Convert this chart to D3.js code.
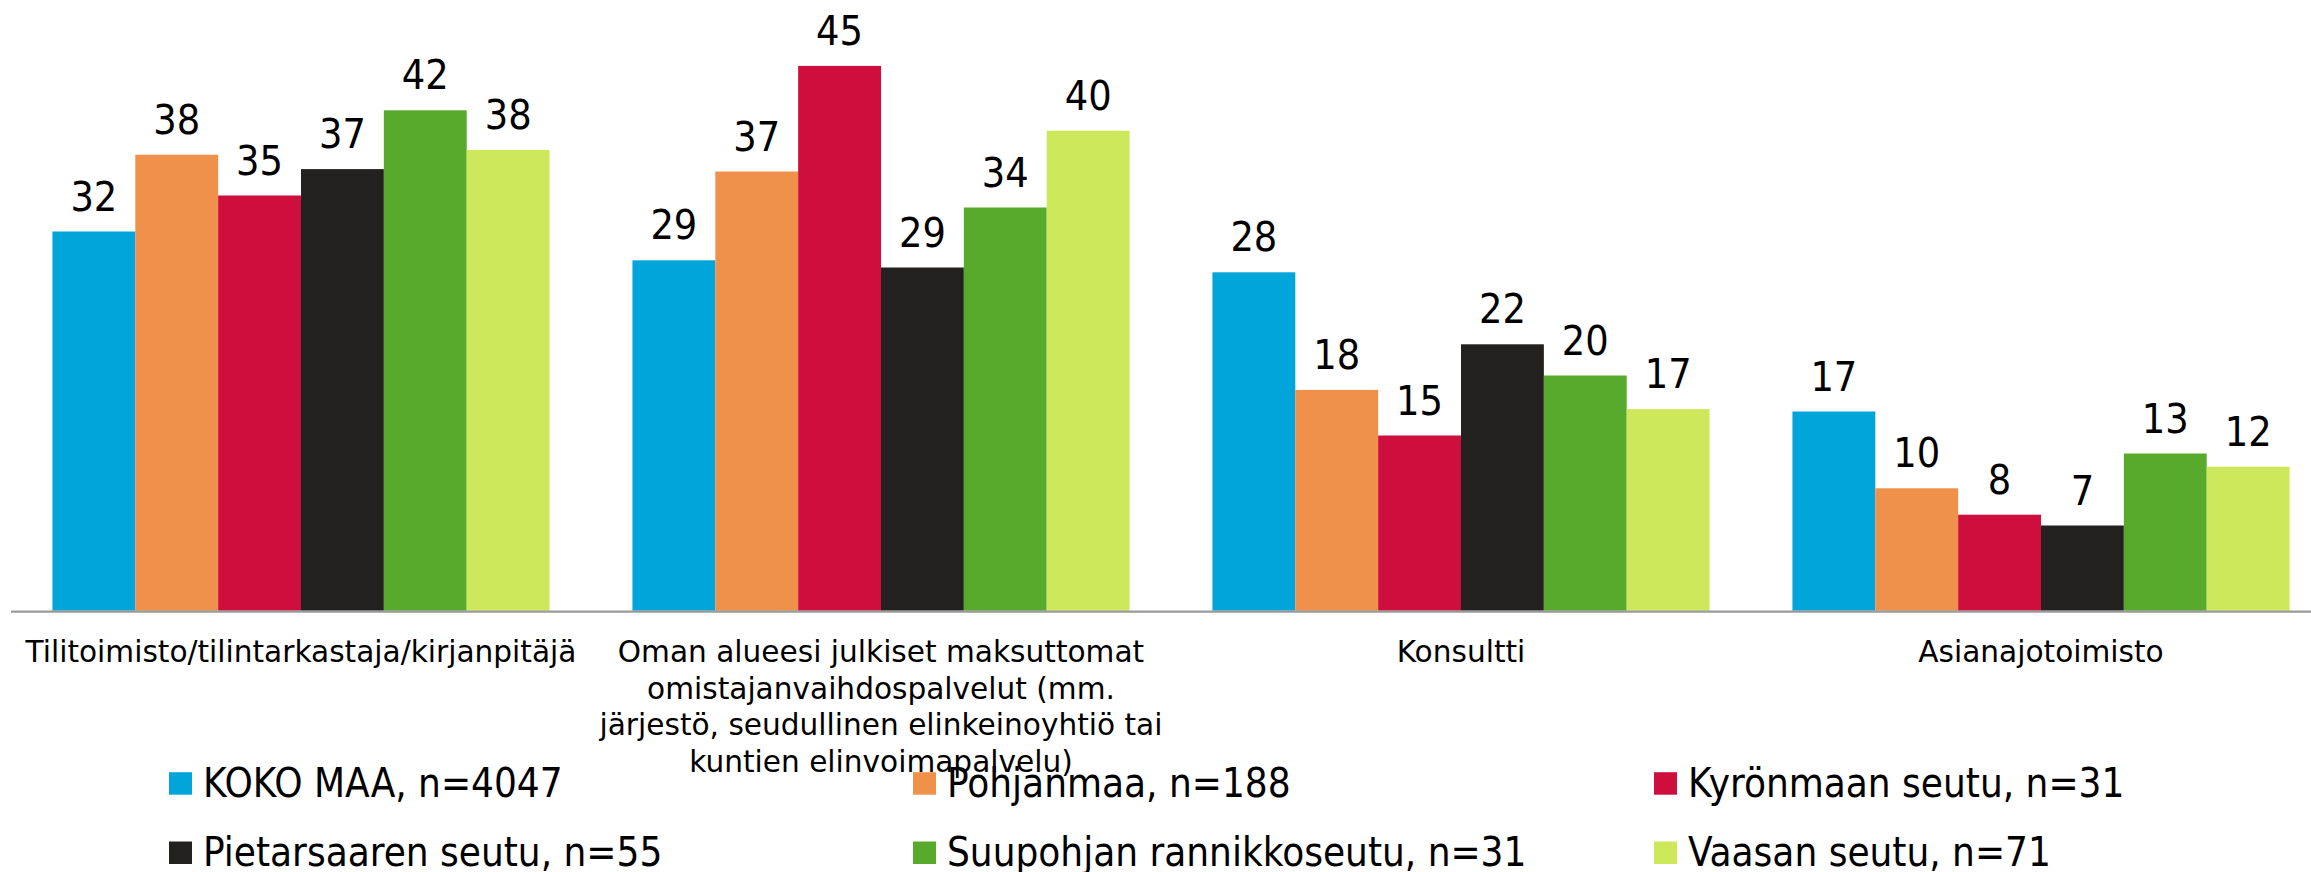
<!DOCTYPE html>
<html>
<head>
<meta charset="utf-8">
<script src="https://cdn.jsdelivr.net/npm/d3@7"></script>
<style>
  html, body { margin: 0; padding: 0; background: #ffffff; }
  svg { display: block; }
</style>
</head>
<body>
<svg id="chart" width="2311" height="872"></svg>
<script>
// ---- data ----
const categories = ["Tilitoimisto", "Oman alueesi", "Konsultti", "Asianajotoimisto"];
const categoryLabels = [
  ["Tilitoimisto/tilintarkastaja/kirjanpitäjä"],
  ["Oman alueesi julkiset maksuttomat", "omistajanvaihdospalvelut (mm.", "järjestö, seudullinen elinkeinoyhtiö tai", "kuntien elinvoimapalvelu)"],
  ["Konsultti"],
  ["Asianajotoimisto"]
];
const seriesNames = [
  "KOKO MAA, n=4047",
  "Pohjanmaa, n=188",
  "Kyrönmaan seutu, n=31",
  "Pietarsaaren seutu, n=55",
  "Suupohjan rannikkoseutu, n=31",
  "Vaasan seutu, n=71"
];
const kokoMaa     = [31.6, 29.2, 28.2, 16.6];
const pohjanmaa   = [38.0, 36.6, 18.4, 10.2];
const kyronmaa    = [34.6, 45.4, 14.6, 8.0];
const pietarsaari = [36.8, 28.6, 22.2, 7.1];
const suupohja    = [41.7, 33.6, 19.6, 13.1];
const vaasa       = [38.4, 40.0, 16.8, 12.0];
const seriesValues = [kokoMaa, pohjanmaa, kyronmaa, pietarsaari, suupohja, vaasa];
const colors = ["#02a5da", "#f0914b", "#ce0f3e", "#232120", "#58aa2d", "#cde85a"];

// ---- layout ----
const svg = d3.select("#chart");
const plotLeft = 11, plotRight = 2331, baseY = 610.7, topY = 10.7;

const x0 = d3.scaleBand().domain(categories).range([plotLeft, plotRight]).padding(0);
const x1 = d3.scaleBand().domain(d3.range(seriesNames.length))
  .range([0, x0.bandwidth()]).paddingInner(0).paddingOuter(0.5);
const y = d3.scaleLinear().domain([0, 50]).range([baseY, topY]);

// bars
const groups = svg.append("g").selectAll("g")
  .data(categories).join("g")
  .attr("transform", d => `translate(${x0(d)},0)`);

groups.each(function(cat, ci) {
  const g = d3.select(this);
  seriesValues.forEach((vals, si) => {
    const v = vals[ci];
    g.append("rect")
      .attr("x", x1(si))
      .attr("y", y(v))
      .attr("width", x1.bandwidth())
      .attr("height", baseY - y(v))
      .attr("fill", colors[si]);
    g.append("text")
      .attr("x", x1(si) + x1.bandwidth() / 2)
      .attr("y", y(v) - 21)
      .attr("text-anchor", "middle")
      .attr("font-family", "'DejaVu Sans Condensed', 'DejaVu Sans', sans-serif")
      .attr("font-size", 41)
      .attr("fill", "#000")
      .text(Math.round(v));
  });
});

// x axis line
svg.append("line")
  .attr("x1", plotLeft).attr("x2", plotRight)
  .attr("y1", baseY + 1).attr("y2", baseY + 1)
  .attr("stroke", "#9a9a9a").attr("stroke-width", 2.2);

// category labels
categories.forEach((c, i) => {
  const cx = x0(c) + x0.bandwidth() / 2;
  const t = svg.append("text")
    .attr("text-anchor", "middle")
    .attr("font-family", "'DejaVu Sans', sans-serif")
    .attr("font-size", 29.6)
    .attr("fill", "#000");
  categoryLabels[i].forEach((line, li) => {
    t.append("tspan").attr("x", cx).attr("y", 662.3 + li * 36.5).text(line);
  });
});

// legend
const legendCols = [169, 913, 1654];
const legendRows = [796.7, 866];
seriesNames.forEach((name, i) => {
  const col = i % 3, row = Math.floor(i / 3);
  const lx = legendCols[col], ly = legendRows[row];
  svg.append("rect")
    .attr("x", lx).attr("y", ly - 24.5)
    .attr("width", 23).attr("height", 22.5)
    .attr("fill", colors[i]);
  svg.append("text")
    .attr("x", lx + 34).attr("y", ly)
    .attr("font-family", "'DejaVu Sans Condensed', 'DejaVu Sans', sans-serif")
    .attr("font-size", 40)
    .attr("fill", "#000")
    .text(name);
});
</script>
</body>
</html>
